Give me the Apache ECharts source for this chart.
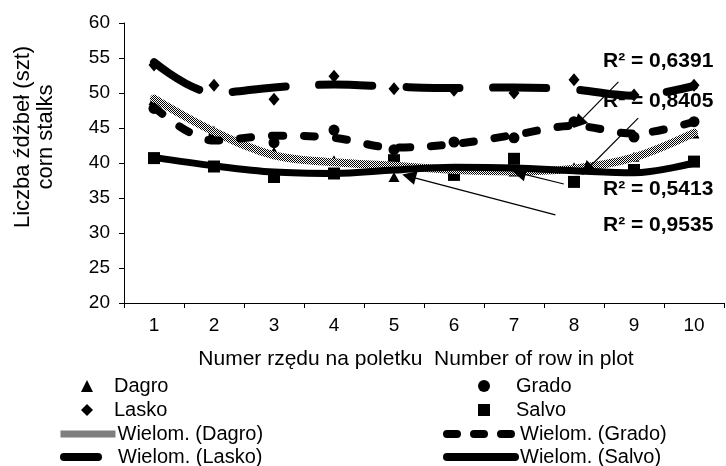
<!DOCTYPE html>
<html><head><meta charset="utf-8">
<script src="https://cdn.jsdelivr.net/npm/echarts@6/dist/echarts.min.js"></script>
<style>html,body{margin:0;padding:0;background:#fff}#c{width:726px;height:466px}</style>
</head><body><div id="c"></div>
<script>
// ---- data ----
const categories = ['1','2','3','4','5','6','7','8','9','10'];
const rowNumbers = [1,2,3,4,5,6,7,8,9,10];

const dagro = [49.0, 44.6, 41.6, 40.4, 38.0, 39.0, 38.8, 39.4, 40.9, 44.2];
const grado = [47.8, 44.0, 42.9, 44.7, 41.9, 43.0, 43.6, 45.9, 43.7, 45.9];
const lasko = [54.0, 51.1, 49.1, 52.4, 50.6, 50.4, 50.0, 51.9, 49.7, 51.1];
const salvo = [40.7, 39.5, 38.0, 38.5, 40.4, 38.3, 40.6, 37.3, 39.0, 40.2];

const dagroTrend = [49.2, 44.5, 41.1, 40.1, 39.6, 39.0, 38.8, 39.2, 40.8, 44.3];
const gradoTrend = [48.0, 43.2, 43.9, 43.6, 42.2, 42.7, 44.0, 45.3, 44.2, 45.9];
const laskoTrend = [54.4, 50.0, 50.8, 51.2, 50.9, 50.7, 50.8, 50.5, 49.6, 51.0];
const salvoTrend = [40.8, 39.6, 38.7, 38.5, 39.0, 39.4, 39.3, 38.9, 38.6, 40.0];

const r2Labels = ['R² = 0,6391', 'R² = 0,8405', 'R² = 0,5413', 'R² = 0,9535'];
// arrows from R² labels to trend lines: [fromRow, fromValue, toRow, toValue]
const r2Arrows = [
  [8.74, 51.6, 8.07, 45.7],
  [9.07, 46.4, 8.21, 39.0],
  [7.83, 37.0, 7.08, 38.6],
  [7.69, 32.6, 5.25, 38.1]
];

const yTitle = 'Liczba źdźbeł (szt)\ncorn stalks';
const xTitle = 'Numer rzędu na poletku  Number of row in plot';

// ---- rendering ----
const FONT = '"Liberation Sans", Arial, sans-serif';
const pat = document.createElement('canvas');
pat.width = 2; pat.height = 2;
const pc = pat.getContext('2d');
pc.fillStyle = '#fff'; pc.fillRect(0,0,2,2);
pc.fillStyle = '#000'; pc.fillRect(0,0,1,1); pc.fillRect(1,1,1,1);
const checker = {image: pat, repeat: 'repeat'};

const pairs = arr => arr.map((v,i) => [rowNumbers[i], v]);

function scatter(name, data, symbol, size) {
  return {name, type:'scatter', xAxisIndex:0, data, symbol, symbolSize:size,
    itemStyle:{color:'#000', opacity:1}, z:2, silent:true};
}
function trend(name, data, lineStyle, extra) {
  return Object.assign({name, type:'line', xAxisIndex:1, data:pairs(data), smooth:0.35,
    symbol:'none', showSymbol:false, lineStyle:Object.assign({color:'#000', cap:'round', join:'round'}, lineStyle),
    itemStyle:{color:'#000'}, z:3, silent:true}, extra || {});
}

const arrowData = r2Arrows.map(a => [
  {coord:[a[0], a[1]], symbol:'none'},
  {coord:[a[2], a[3]], symbol:'triangle'}
]);

const rowMid = [386, 410, 434, 457];
function symLeg(name, cx, row, textX) {
  const w = 12;
  return {data:[name], left:cx - w/2, top:rowMid[row]-10, itemWidth:w, itemHeight:12, itemGap:0, padding:0,
    selectedMode:false, itemStyle:{opacity:1},
    textStyle:{fontSize:20, fontFamily:FONT, color:'#000', lineHeight:20, padding:[0,0,0, textX - (cx + w/2 + 5)]}};
}
function lineLeg(name, x0, x1, textX, row, ls) {
  return {data:[name], left:x0, top:rowMid[row]-10, itemWidth:x1 - x0, itemHeight:2, itemGap:0, padding:0,
    selectedMode:false, itemStyle:{opacity:0},
    lineStyle:Object.assign({color:'#000', cap:'round', join:'round'}, ls),
    textStyle:{fontSize:20, fontFamily:FONT, color:'#000', lineHeight:20, padding:[0,0,0, textX - (x1 + 5)]}};
}
const L = {sym:87, text:114};
const R = {sym:484, text:516};

const option = {
  animation:false,
  backgroundColor:'#fff',
  grid:{left:124, right:2, top:23, bottom:163, containLabel:false},
  xAxis:[{
    type:'category', data:categories, boundaryGap:true,
    axisLine:{lineStyle:{color:'#000', width:1}},
    axisTick:{show:true, length:5, lineStyle:{color:'#000'}},
    axisLabel:{color:'#000', fontSize:19, fontFamily:FONT, margin:13},
    splitLine:{show:false},
    name:xTitle, nameLocation:'middle', nameGap:46,
    nameTextStyle:{color:'#000', fontSize:21, fontFamily:FONT, padding:[0,16,0,0]}
  },{
    type:'value', min:0.5, max:10.5, show:false
  }],
  yAxis:{
    type:'value', min:20, max:60, interval:5,
    axisLine:{show:true, lineStyle:{color:'#000', width:1}},
    axisTick:{show:true, length:5, lineStyle:{color:'#000'}},
    axisLabel:{color:'#000', fontSize:19, fontFamily:FONT, margin:14},
    splitLine:{show:false}
  },
  legend:[
    symLeg('Dagro', L.sym, 0, L.text),
    symLeg('Grado', R.sym, 0, R.text),
    symLeg('Lasko', L.sym, 1, L.text),
    symLeg('Salvo', R.sym, 1, R.text),
    lineLeg('Wielom. (Dagro)', 57, 112, L.text, 2, {color:checker, width:7, cap:'butt'}),
    lineLeg('Wielom. (Grado)', 443, 510, R.text, 2, {width:8, type:[10,17]}),
    lineLeg('Wielom. (Lasko)', 60, 112, L.text, 3, {width:8, type:[34,60]}),
    lineLeg('Wielom. (Salvo)', 443, 511, R.text, 3, {width:8})
  ],
  graphic:[
    {type:'text', rotation:Math.PI/2, x:34, y:137,
      style:{text:yTitle, fontSize:22, fontFamily:FONT, fill:'#000', align:'center', verticalAlign:'middle', lineHeight:23}},
    {type:'text', x:603, y:61, style:{text:r2Labels[0], fontSize:21, fontWeight:'bold', fontFamily:FONT, fill:'#000', verticalAlign:'middle'}},
    {type:'text', x:603, y:101, style:{text:r2Labels[1], fontSize:21, fontWeight:'bold', fontFamily:FONT, fill:'#000', verticalAlign:'middle'}},
    {type:'text', x:603, y:189, style:{text:r2Labels[2], fontSize:21, fontWeight:'bold', fontFamily:FONT, fill:'#000', verticalAlign:'middle'}},
    {type:'text', x:603, y:225, style:{text:r2Labels[3], fontSize:21, fontWeight:'bold', fontFamily:FONT, fill:'#000', verticalAlign:'middle'}}
  ],
  series:[
    scatter('Dagro', dagro, 'triangle', [11,10]),
    scatter('Grado', grado, 'circle', 11),
    scatter('Lasko', lasko, 'diamond', [11,13]),
    scatter('Salvo', salvo, 'rect', 12),
    trend('Wielom. (Dagro)', dagroTrend, {color:checker, width:8}),
    trend('Wielom. (Grado)', gradoTrend, {width:8, type:[11,21]}),
    trend('Wielom. (Lasko)', laskoTrend, {width:8, type:[53,34]}),
    trend('Wielom. (Salvo)', salvoTrend, {width:7}, {
      markLine:{silent:true, animation:false, symbol:['none','triangle'], symbolSize:14,
        label:{show:false}, lineStyle:{color:'#000', width:1.2, type:'solid'},
        emphasis:{disabled:true}, data:arrowData}
    })
  ]
};
const chart = echarts.init(document.getElementById('c'), null, {renderer:'canvas'});
chart.setOption(option);
</script>
</body></html>
